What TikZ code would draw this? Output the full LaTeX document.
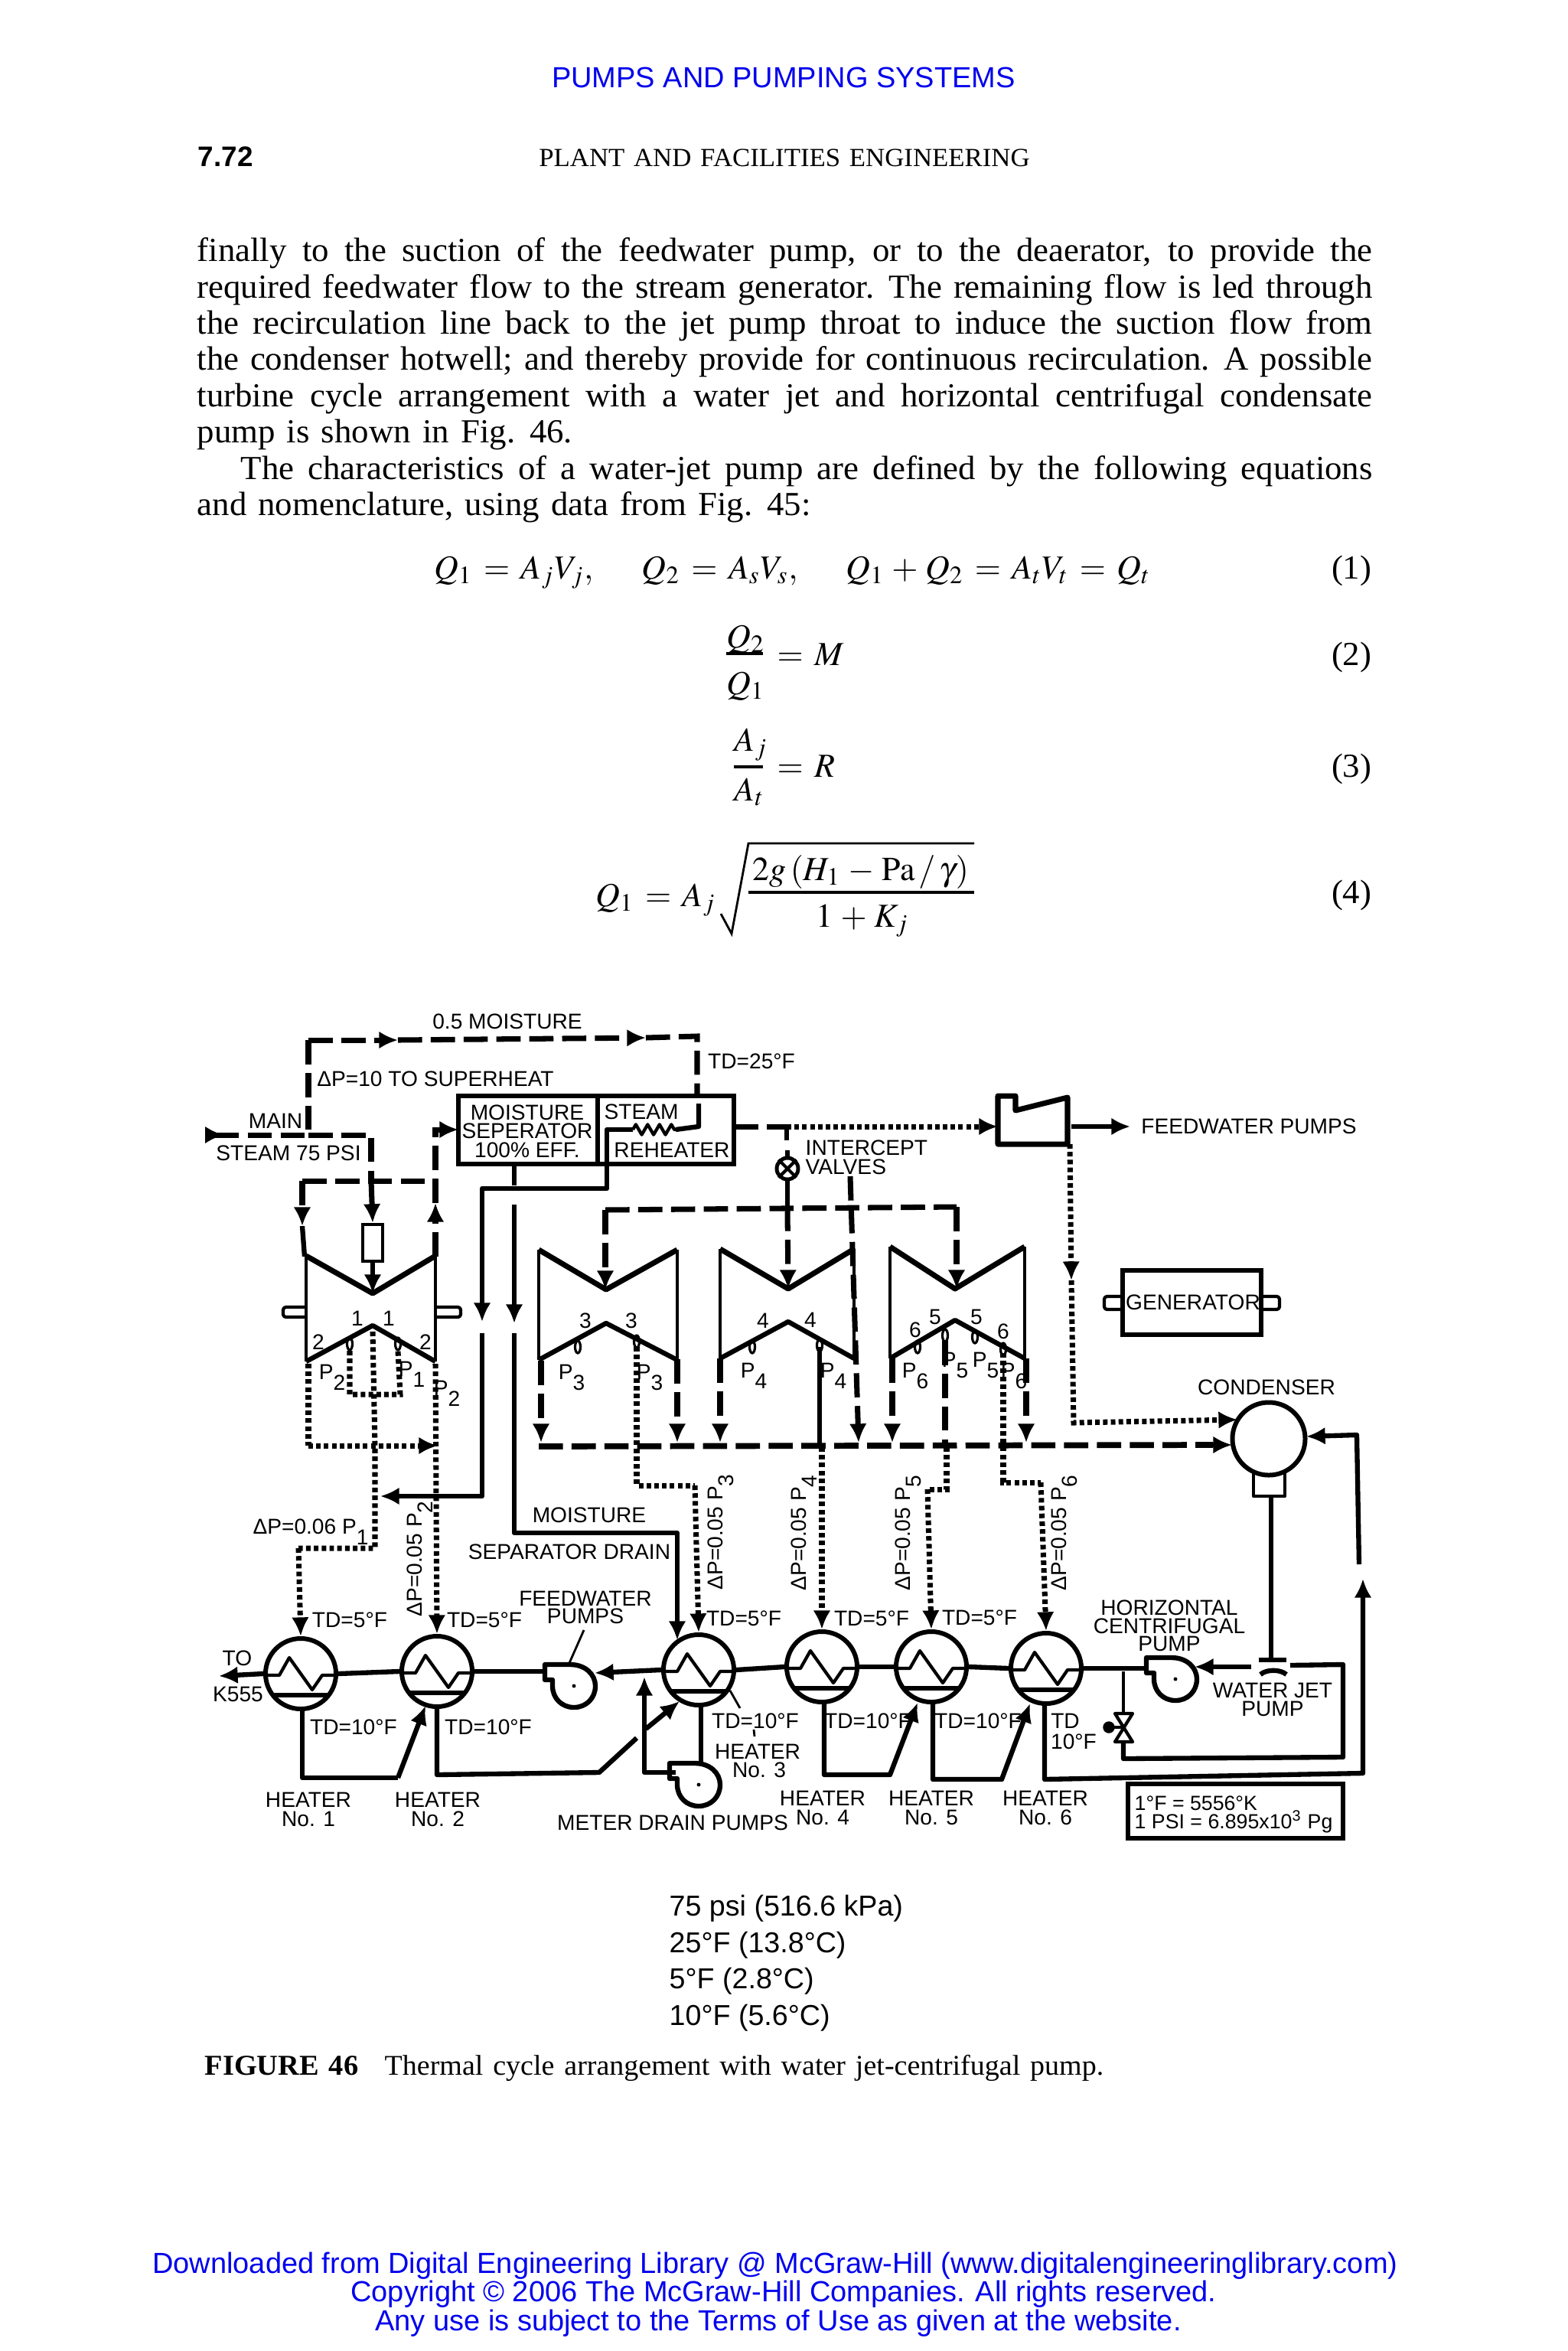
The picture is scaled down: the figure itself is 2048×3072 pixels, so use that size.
\documentclass[tikz,border=0pt]{standalone}
\usepackage{mathptmx}
\usepackage[no-math]{fontspec}
\setmainfont[FakeStretch=1.02, WordSpace=1.35]{Liberation Serif}
\setsansfont{Liberation Sans}
\definecolor{pageblue}{HTML}{0000EE}
\usetikzlibrary{arrows.meta, positioning, decorations.pathmorphing}
\newcommand{\psub}[1]{P\raisebox{-0.5em}{#1}}
\thickmuskip=6mu
\medmuskip=4mu

\begin{document}
\begin{tikzpicture}[
      x=0.01cm, y=-0.01cm,
      sol/.style={line width=1.8pt, line join=round},
      med/.style={line width=1.2pt, line join=round},
      dashl/.style={line width=2pt, dash pattern=on 9pt off 3.2pt},
      dotl/.style={line width=2pt, dash pattern=on 1.7pt off 1.2pt},
      head/.style={-{Latex[length=7pt,width=6.5pt]}},
      lbl/.style={font=\fontsize{8}{9}\selectfont\sffamily, inner sep=0pt, text height=5.7pt, text depth=0pt},
      heater/.style={circle, draw, line width=1.7pt, minimum size=0.92cm, inner sep=0pt},
      boxed/.style={rectangle, draw, line width=1.9pt, inner sep=0pt},
      bodyline/.style={anchor=base west, inner sep=0pt, font=\fontsize{12.5}{14}\selectfont},
      blueline/.style={anchor=base, inner sep=0pt, text=pageblue, font=\fontsize{10.8}{12}\selectfont\sffamily},
      notes/.style={anchor=base west, inner sep=0pt, font=\fontsize{10.7}{12}\selectfont\sffamily}
    ]
      \fill[white] (0,0) rectangle (2048,3072);
      \useasboundingbox (0,0) rectangle (2048,3072);

      \node[blueline] (header) at (1024,114) {PUMPS AND PUMPING SYSTEMS};
      \node[anchor=base west, inner sep=0pt, font=\fontsize{10.5}{12}\selectfont\sffamily\bfseries] (pageno) at (258,217) {7.72};
      \node[anchor=base, inner sep=0pt, font=\fontsize{9.7}{12}\selectfont] (running) at (1025,217) {PLANT AND FACILITIES ENGINEERING};

      \foreach \lname/\ly/\ltxt in {
        la/341/{finally to the suction of the feedwater pump, or to the deaerator, to provide the},
        lb/389/{required feedwater flow to the stream generator. The remaining flow is led through},
        lc/436/{the recirculation line back to the jet pump throat to induce the suction flow from},
        ld/483/{the condenser hotwell; and thereby provide for continuous recirculation. A possible},
        le/531/{turbine cycle arrangement with a water jet and horizontal centrifugal condensate}}
        \node[bodyline] (\lname) at (257,\ly) {\hbox to 15.35cm{\ltxt}};
      \node[bodyline] (lf) at (257,578) {pump is shown in Fig. 46.};
      \node[bodyline] (lg) at (314,626) {\hbox to 14.78cm{The characteristics of a water-jet pump are defined by the following equations}};
      \node[bodyline] (lh) at (257,673) {and nomenclature, using data from Fig. 45:};

      \node[bodyline] (eqa) at (567,756) {$Q_1 = A_jV_j,\quad\; Q_2 = A_sV_s,\quad\; Q_1 + Q_2 = A_tV_t = Q_t$};
      \node[bodyline] (eqbn) at (949,846) {$Q_2$};
      \node[bodyline] (eqbd) at (949,907) {$Q_1$};
      \node[bodyline] (eqbr) at (1015,869) {$=M$};
      \node[bodyline] (eqcn) at (959,981) {$A_j$};
      \node[bodyline] (eqcd) at (959,1046) {$A_t$};
      \node[bodyline] (eqcr) at (1015,1015) {$=R$};
      \node[bodyline] (eqdl) at (778,1184) {$Q_1 = A_j$};
      \node[bodyline, anchor=base] (eqdn) at (1125,1150) {$2g\,(H_1 - \mathrm{Pa}\,/\,\gamma)$};
      \node[bodyline, anchor=base] (eqdd) at (1127,1211) {$1 + K_j$};
      \foreach \nn/\ny in {1/756,2/869,3/1015,4/1180}
        \node[bodyline, anchor=base east] (eqno\nn) at (1793,\ny) {(\nn)};
      \foreach \cn/\cx/\cy in {bba/949/854, bbb/997/854, cba/959/1002, cbb/997/1002, dba/978/1166, dbb/1273/1166,
        rada/942/1194, radb/956/1220, radc/978/1102, radd/1273/1102}
        \coordinate (\cn) at (\cx,\cy);
      \draw[line width=1.1pt] (bba) -- (bbb);
      \draw[line width=1.1pt] (cba) -- (cbb);
      \draw[line width=1.1pt] (dba) -- (dbb);
      \draw[line width=0.8pt] (rada) -- (radb) -- (radc) -- (radd);

      \node[boxed, minimum width=1.82cm, minimum height=0.89cm] (sep) at (690,1476.5) {};
      \node[boxed, minimum width=1.78cm, minimum height=0.89cm] (reh) at (870,1476.5) {};
      \node[lbl] (sepa) at (689,1453) {MOISTURE};
      \node[lbl] (sepb) at (689,1477) {SEPERATOR};
      \node[lbl] (sepc) at (689,1502) {100\% EFF.};
      \node[lbl] (reha) at (838,1452) {STEAM};
      \node[lbl] (rehb) at (878,1502) {REHEATER};
      \node[boxed, line width=1.2pt, minimum width=0.26cm, minimum height=0.48cm] (trv) at (487,1624) {};
      \node[boxed, minimum width=1.81cm, minimum height=0.84cm] (gen) at (1557.5,1702) {};
      \node[lbl] (genlbl) at (1559,1701) {GENERATOR};
      \node[heater] (ha) at (393,2187) {};
      \node[heater] (hb) at (571,2184) {};
      \node[heater] (hc) at (913,2182) {};
      \node[heater] (hd) at (1074,2178) {};
      \node[heater] (he) at (1217,2178) {};
      \node[heater] (hf) at (1367,2180) {};
      \node[heater, minimum size=0.95cm] (cond) at (1658,1880) {};
      \node[circle, draw, line width=1.4pt, minimum size=0.28cm, inner sep=0pt] (iv) at (1029,1527) {};
      \node[boxed, minimum width=2.81cm, minimum height=0.71cm] (units) at (1614.5,2366.5) {};
      \draw[med] (iv.45) -- (iv.225);
      \draw[med] (iv.135) -- (iv.315);

      \foreach \hh in {ha,hb,hc,hd,he,hf} {
        \draw[med] ([shift={(-46,2)}]\hh.center) -- ([shift={(-28,2)}]\hh.center) -- ([shift={(-15,-21)}]\hh.center)
          -- ([shift={(15,21)}]\hh.center) -- ([shift={(28,2)}]\hh.center) -- ([shift={(46,2)}]\hh.center);
        \draw[sol] ([shift={(-36,28)}]\hh.center) -- ([shift={(36,28)}]\hh.center);
      }

      \foreach \xl/\xm/\xr/\yt/\ya/\yb/\yc in {
        400/487/569/1641/1690/1779/1732, 704/792/885/1633/1685/1777/1729,
        941/1030/1116/1632/1684/1775/1727, 1163/1248/1339/1629/1684/1775/1725} {
        \draw[sol, line width=2pt] (\xl,\yt) -- (\xm,\ya) -- (\xr,\yt);
        \draw[sol] (\xl,\yb) -- (\xm,\yc) -- (\xr,\yb);
        \draw[med] (\xl,\yt) -- (\xl,\yb);
        \draw[med] (\xr,\yt) -- (\xr,\yb);
      }
      \foreach \bx/\by in {457/1756, 520/1756, 755/1760, 832/1753, 983/1760, 1071/1758, 1199/1760, 1235/1745, 1274/1747, 1311/1763}
        \draw[line width=0.9pt] (\bx,\by) ellipse (3.5 and 8);
      \draw[med, rounded corners=1pt] (400,1708) -- (370,1708) -- (370,1721) -- (400,1721);
      \draw[med, rounded corners=1pt] (571,1708) -- (602,1708) -- (602,1721) -- (571,1721);
      \draw[med, rounded corners=1pt] (1467,1694) -- (1443,1694) -- (1443,1711) -- (1467,1711);
      \draw[med, rounded corners=1pt] (1648,1694) -- (1672,1694) -- (1672,1711) -- (1648,1711);

      \foreach \pn/\px/\py in {fwp/750/2203, mdp/913/2332, hcp/1536/2194} {
        \coordinate (\pn) at (\px,\py);
        \begin{scope}[shift={(\px,\py)}]
          \draw[sol] (-5,-28) .. controls (15,-28) and (28,-15) .. (28,0)
            .. controls (28,16) and (16,28) .. (0,28)
            .. controls (-16,28) and (-28,16) .. (-28,0) -- (-28,-8) -- (-38,-8) -- (-38,-28) -- cycle;
          \fill (0,0) circle (0.7pt);
        \end{scope}
      }

      \foreach \cn/\cx/\cy in {
        mains/268/1483, mainb/403/1483, mainc/485/1483, topa/403/1359, topb/520/1359, topd/844/1356, tope/911/1354, topf/911/1432,
        hda/395/1543, hdb/485/1543, hdc/569/1543, hde/395/1602, hdf/398/1642, hdg/569/1642, hdh/569/1572, hdi/569/1476, hdj/599/1476,
        hdk/487/1690, ina/913/1442, inb/913/1472, inc/883/1476, ind/827/1476, ine/793/1476, inf/793/1553, ing/630/1553, inh/630/1727, ini/630/1742,
        inj/630/1955, ink/497/1955, dra/672/1521, drb/672/1549, drc/672/1574, drd/672/1729, dre/672/1742, drf/672/2003, drg/885/2003, drh/885/2143,
        xoa/959/1472, xob/1028/1472, xoc/1290/1472, xod/1304/1472,
        vla/1028/1490, vlb/1029/1503, vlc/1029/1541, vld/1029/1577,
        iba/791/1581, ibb/1250/1577, ibc/791/1685, ibd/1030/1684, ibe/1250/1684, icb/1111/1537, icc/1122/1885,
        bua/704/1890, bub/1585/1888, buc/1582/1888, bud/1610/1888,
        exa/707/1778, exb/707/1885, exc/885/1776, exd/885/1885, exe/941/1775, exf/941/1885, exg/1166/1775, exh/1166/1885, exi/1341/1775, exj/1341/1885,
        lea/403/1782, leb/403/1889, lec/572/1889, lia/457/1765, lib/457/1822, lic/523/1822, lid/520/1765, cea/487/1740, ceb/490/1890, cec/490/2023,
        ced/390/2023, ria/569/1782,
        tca/832/1760, tcb/832/1941, tcc/908/1941,
        tda/1071/1760, tdb/1071/1891, tdc/1074/1891,
        tea/1235/1752, teb/1235/1891, tec/1237/1891, ted/1237/1946, tee/1212/1946,
        tfa/1311/1768, tfb/1311/1937, tfc/1360/1937,
        hoa/1398/1495, hob/1400/1673, hoc/1403/1859, hod/1617/1855,
        oua/1400/1472, oub/1477/1472,
        toa/286/2190,
        fwa/712/2184, fwb/777/2186, rca/842/2316, rcb/883/2316, rcc/842/2191, rcd/844/2259, rce/888/2223,
        loa/395/2231, lob/395/2323, loc/520/2323, lod/556/2229, lpa/571/2230, lpb/571/2319, lpc/783/2316, lpd/832/2271,
        lqa/916/2228, lqb/916/2305, lra/1077/2224, lrb/1077/2319, lrc/1163/2319, lrd/1199/2225,
        lsa/1219/2224, lsb/1219/2325, lsc/1309/2325, lsd/1346/2226, lta/1365/2226, ltb/1365/2325, ltc/1781/2317, ltd/1781/2063,
        lte/1776/2044, ltf/1773/1875, ltg/1707/1877,
        hca/1495/2180, wjb/1635/2178, wjc/1561/2178, wja/1686/2176, wjd/1755/2175, wje/1755/2296, wjf/1468/2298, wjg/1468/2276, wjh/1468/2184, wji/1468/2239,
        coa/1661/1955, cob/1661/2169}
        \coordinate (\cn) at (\cx,\cy);

      \draw[dashl, {Latex[reversed,length=7pt,width=6.5pt]}-] (mains) -- (mainb);
      \draw[dashl] (mainb) -- (mainc) -- (hdb);
      \draw[dashl, head] (hdb) -- (trv.north);
      \draw[dashl] (topa) -- (mainb);
      \draw[dashl, head] (topa) -- (topb);
      \draw[dashl, head] (topb) -- (topd);
      \draw[dashl] (topd) -- (tope) -- (topf);
      \draw[dashl] (hda) -- (hdc);
      \draw[dashl, head] (hda) -- (hde);
      \draw[sol] (hde) -- (hdf);
      \draw[dashl, head] (hdg) -- (hdh);
      \draw[dashl, head] (hdh) -- (hdi) -- (hdj);
      \draw[sol, head] (trv.south) -- (hdk);

      \draw[sol] (ina) -- (inb) -- (inc);
      \draw[med, decorate, decoration={zigzag, amplitude=1.9pt, segment length=4.4pt}] (ind) -- (inc);
      \draw[sol, head] (ind) -- (ine) -- (inf) -- (ing) -- (inh);
      \draw[sol, head] (ini) -- (inj) -- (ink);
      \draw[sol] (dra) -- (drb);
      \draw[sol, head] (drc) -- (drd);
      \draw[sol, head] (dre) -- (drf) -- (drg) -- (drh);

      \draw[dashl] (xoa) -- (xob);
      \draw[dotl] (xob) -- (xoc);
      \draw[sol, head] (xoc) -- (xod);
      \draw[sol] (xob) -- (vla);
      \draw[sol] (vlb) -- (iv.north);
      \draw[sol] (iv.south) -- (vld);
      \draw[dashl] (iba) -- (ibb);
      \draw[dashl, head] (iba) -- (ibc);
      \draw[dashl, head] (vld) -- (ibd);
      \draw[dashl, head] (ibb) -- (ibe);
      \draw[dashl, head] (icb) -- (icc);

      \draw[dashl, line width=2.2pt] (bua) -- (bub);
      \draw[sol, head] (buc) -- (bud);
      \foreach \ea/\eb in {exa/exb, exc/exd, exe/exf, exg/exh, exi/exj}
        \draw[dashl, head] (\ea) -- (\eb);
      \draw[dashl] (tea) -- (teb);
      \draw[sol] (tda) -- (tdb);

      \draw[dotl] (lea) -- (leb);
      \draw[dotl, head] (leb) -- (lec);
      \draw[dotl] (lia) -- (lib) -- (lic) -- (lid);
      \draw[dotl] (cea) -- (ceb) -- (cec) -- (ced);
      \draw[dotl, head] (ced) -- (ha.north);
      \draw[dotl, head] (ria) -- (hb.north);
      \draw[dotl] (tca) -- (tcb) -- (tcc);
      \draw[dotl, head] (tcc) -- (hc.north);
      \draw[dotl, head] (tdc) -- (hd.north);
      \draw[dotl] (tec) -- (ted) -- (tee);
      \draw[dotl, head] (tee) -- (he.north);
      \draw[dotl] (tfa) -- (tfb) -- (tfc);
      \draw[dotl, head] (tfc) -- (hf.north);
      \draw[dotl, head] (hoa) -- (hob);
      \draw[dotl, head] (hob) -- (hoc) -- (hod);

      \draw[sol, line width=2pt] (1304,1432) -- (1327,1432) -- (1327,1451) -- (1395,1434) -- (1395,1495) -- (1304,1495) -- cycle;
      \draw[sol, head] (oua) -- (oub);

      \draw[sol, head] (ha.west) -- (toa);
      \draw[sol] (ha.east) -- (hb.west);
      \draw[sol] (hb.east) -- (fwa);
      \draw[sol, head] (hc.west) -- (fwb);
      \draw[sol] (hc.east) -- (hd.west);
      \draw[sol] (hd.east) -- (he.west);
      \draw[sol] (he.east) -- (hf.west);
      \draw[sol] (hf.east) -- (hca);
      \draw[sol, head] (rcb) -- (rca) -- (rcc);
      \draw[sol, head] (rcd) -- (rce);
      \draw[sol] (loa) -- (lob) -- (loc);
      \draw[sol, head] (loc) -- (lod);
      \draw[sol] (lpa) -- (lpb) -- (lpc) -- (lpd);
      \draw[sol] (lqa) -- (lqb);
      \draw[sol, head] (lra) -- (lrb) -- (lrc) -- (lrd);
      \draw[sol, head] (lsa) -- (lsb) -- (lsc) -- (lsd);
      \draw[sol, head] (lta) -- (ltb) -- (ltc) -- (ltd);
      \draw[sol, head] (lte) -- (ltf) -- (ltg);

      \draw[sol, head] (wjb) -- (wjc);
      \draw[sol] (wja) -- (wjd) -- (wje) -- (wjf) -- (wjg);
      \draw[med] (wjh) -- (wji);
      \draw[med] (1457,2239) -- (1480,2239) -- (1457,2276) -- (1480,2276) -- cycle;
      \fill (1449,2257) circle (2.2pt);
      \draw[med] (1449,2257) -- (1468,2257);
      \draw[med] (1638,1925) -- (1638,1955) -- (1679,1955) -- (1679,1925);
      \draw[med, line width=1.6pt] (coa) -- (cob);
      \draw[sol] (1645,2169) -- (1681,2169);
      \draw[sol] (1647,2188) .. controls (1655,2181) and (1673,2181) .. (1681,2188);
      \draw[line width=0.8pt] (763,2130) -- (744,2173);
      \draw[line width=0.8pt] (954,2209) -- (967,2232);
      \draw[line width=0.8pt] (985,2260) -- (986,2269);

      \node[lbl] (moist) at (663,1334) {0.5 MOISTURE};
      \node[lbl] (dpsup) at (569,1409) {ΔP=10 TO SUPERHEAT};
      \node[lbl] (tdtop) at (982,1386) {TD=25°F};
      \node[lbl] (mainlbl) at (360,1464) {MAIN};
      \node[lbl] (steamlbl) at (377,1506) {STEAM 75 PSI};
      \node[lbl, anchor=west] (intera) at (1052,1499) {INTERCEPT};
      \node[lbl, anchor=west] (interb) at (1052,1524) {VALVES};
      \node[lbl] (fwout) at (1632,1471) {FEEDWATER PUMPS};
      \node[lbl] (condlbl) at (1655,1812) {CONDENSER};

      \foreach \tn/\tx/\ty/\ts in {
        na/467/1722/1, nb/508/1722/1, nc/416/1753/2, nd/556/1753/2, ne/765/1725/3, nf/825/1725/3,
        ng/997/1725/4, nh/1059/1724/4, ni/1222/1720/5, nj/1276/1720/5, nk/1196/1737/6, nl/1311/1739/6}
        \node[lbl] (\tn) at (\tx,\ty) {\ts};
      \foreach \tn/\tx/\ty/\ts in {
        pa/434/1792/2, pb/538/1788/1, pc/584/1813/2, pd/747/1792/3, pe/849/1792/3, pf/985/1790/4, pg/1089/1790/4,
        ph/1196/1790/6, pi/1248/1776/5, pj/1288/1776/5, pk/1325/1790/6}
        \node[lbl] (\tn) at (\tx,\ty) {\psub{\ts}};

      \node[lbl] (dpone) at (406,1994) {ΔP=0.06 \psub{1}};
      \foreach \tn/\tx/\ty/\ts in {da/541/2037/2, db/934/2002/3, dc/1043/2003/4, dd/1179/2003/5, de/1383/2003/6}
        \node[lbl, rotate=90] (\tn) at (\tx,\ty) {ΔP=0.05 \psub{\ts}};
      \node[lbl] (moistb) at (770,1979) {MOISTURE};
      \node[lbl] (sepdr) at (744,2027) {SEPARATOR DRAIN};
      \node[lbl] (fwlbla) at (765,2088) {FEEDWATER};
      \node[lbl] (fwlblb) at (765,2111) {PUMPS};
      \foreach \tn/\tx/\ty in {fa/457/2116, fb/633/2116, fc/972/2114, fd/1139/2114, fe/1280/2113}
        \node[lbl] (\tn) at (\tx,\ty) {TD=5°F};
      \foreach \tn/\tx/\ty in {tta/462/2256, ttb/638/2256, ttc/987/2248, ttd/1134/2248, tte/1278/2248}
        \node[lbl] (\tn) at (\tx,\ty) {TD=10°F};
      \node[lbl] (ttfa) at (1392,2248) {TD};
      \node[lbl] (ttfb) at (1403,2275) {10°F};
      \node[lbl] (tolbl) at (310,2166) {TO};
      \node[lbl] (klbl) at (311,2213) {K555};
      \node[lbl] (hthree) at (990,2288) {HEATER};
      \node[lbl] (nthree) at (992,2312) {No. 3};
      \foreach \tn/\tx/\ty/\ts in {ka/403/2351/1, kb/572/2351/2, kd/1075/2349/4, ke/1217/2349/5, kf/1366/2349/6} {
        \node[lbl] (\tn) at (\tx,\ty) {HEATER};
        \node[lbl, below=1.1pt of \tn] (\tn n) {No. \ts};
      }
      \node[lbl] (meter) at (879,2381) {METER DRAIN PUMPS};
      \node[lbl] (hora) at (1528,2100) {HORIZONTAL};
      \node[lbl] (horb) at (1528,2124) {CENTRIFUGAL};
      \node[lbl] (horc) at (1528,2147) {PUMP};
      \node[lbl] (jetlbla) at (1663,2208) {WATER JET};
      \node[lbl] (jetlblb) at (1663,2232) {PUMP};
      \node[lbl, anchor=west, font=\fontsize{7.6}{9}\selectfont\sffamily] (unita) at (1482,2355) {1°F = 5556°K};
      \node[lbl, anchor=west, font=\fontsize{7.6}{9}\selectfont\sffamily] (unitb) at (1482,2379) {1 PSI = 6.895x10\textsuperscript{3} Pg};

      \node[notes] (noa) at (874,2503) {75 psi (516.6 kPa)};
      \node[notes] (nob) at (874,2551) {25°F (13.8°C)};
      \node[notes] (noc) at (874,2598) {5°F (2.8°C)};
      \node[notes] (nod) at (874,2646) {10°F (5.6°C)};
      \node[anchor=base west, inner sep=0pt, font=\fontsize{10.7}{13}\selectfont\bfseries] (figno) at (267,2711) {FIGURE 46};
      \node[anchor=base west, inner sep=0pt, font=\fontsize{10.6}{13}\selectfont] (figcap) at (502,2711) {Thermal cycle arrangement with water jet-centrifugal pump.};

      \node[blueline] (foota) at (1013,2970) {Downloaded from Digital Engineering Library @ McGraw-Hill (www.digitalengineeringlibrary.com)};
      \node[blueline] (footb) at (1024,3007) {Copyright © 2006 The McGraw-Hill Companies. All rights reserved.};
      \node[blueline] (footc) at (1017,3045) {Any use is subject to the Terms of Use as given at the website.};
    \end{tikzpicture}
\end{document}
